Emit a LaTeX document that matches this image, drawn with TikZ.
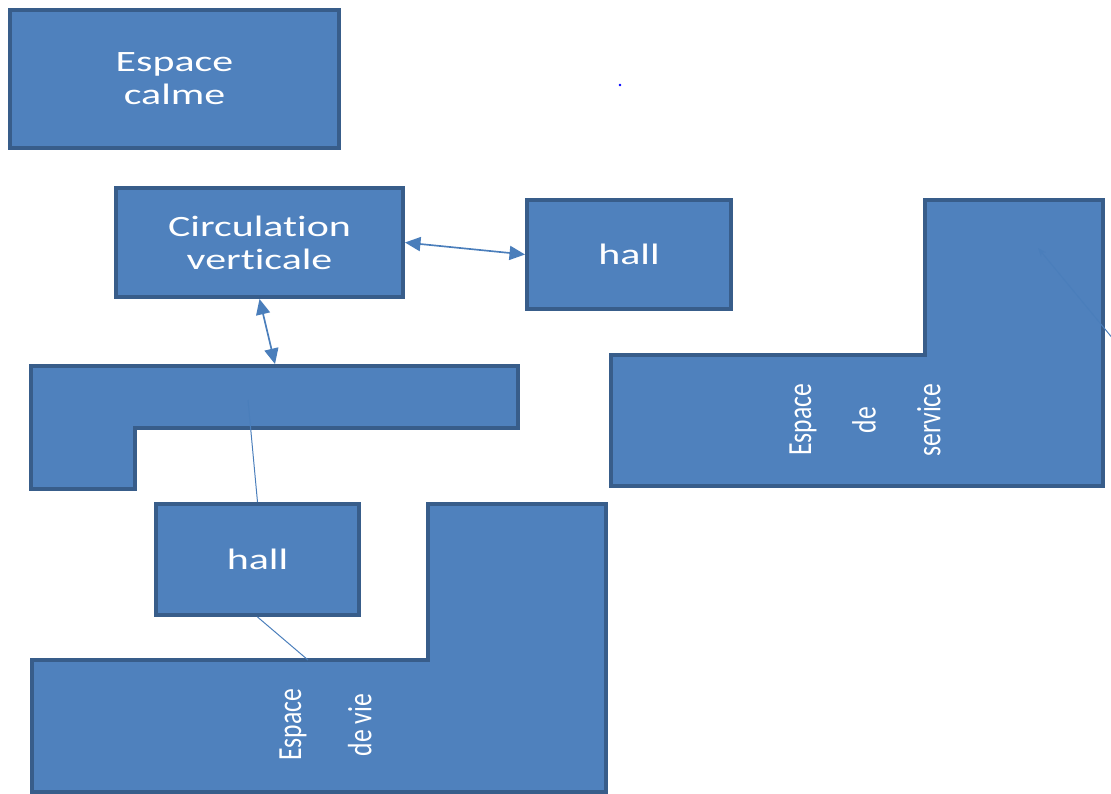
\documentclass[tikz,border=0pt]{standalone}
\usepackage{fontspec}
\usepackage{xcolor}
\usepackage{tikz}
\usetikzlibrary{arrows.meta}
\newfontfamily\widefont[FakeStretch=1.42,Ligatures=NoCommon]{Carlito}
\newfontfamily\narrowfont[FakeStretch=0.76,Ligatures=NoCommon]{Carlito}
\definecolor{boxfill}{HTML}{4F81BD}
\definecolor{boxline}{HTML}{385D8A}
\definecolor{linkblue}{HTML}{4A7EBB}

\begin{document}
\begin{tikzpicture}[x=0.025cm,y=-0.025cm]
\tikzstyle{every node}+=[inner sep=0pt]
\tikzstyle{room}=[draw=boxline,fill=boxfill,line width=2.8pt,text=white,align=center,font=\widefont\fontsize{21}{23.5}\selectfont]
\tikzstyle{zone}=[draw=boxline,fill=boxfill,line width=2.8pt,line join=miter]
\tikzstyle{vlabel}=[rotate=90,text=white,align=center]
\tikzstyle{duplex}=[linkblue,line width=1.2pt,{Triangle[length=11pt,width=10pt]}-{Triangle[length=11pt,width=10pt]}]
\tikzstyle{wire}=[linkblue,line width=0.7pt]
\useasboundingbox (0,0) rectangle (1111,794);
\draw [zone] (31,366) -- (518,366) -- (518,428) -- (135,428) -- (135,489) -- (31,489) -- cycle;
\draw [zone] (611,355) -- (925,355) -- (925,200) -- (1103,200) -- (1103,486) -- (611,486) -- cycle;
\draw [zone] (32,660) -- (428,660) -- (428,504) -- (606,504) -- (606,792) -- (32,792) -- cycle;
\node [room,minimum width=8.225cm,minimum height=3.45cm] (calme) at (174.5,79) {Espace\\calme};
\node [room,minimum width=7.175cm,minimum height=2.725cm] (circ) at (259.5,242.5) {Circulation\\verticale};
\node [room,minimum width=5.1cm,minimum height=2.725cm] (hallA) at (629,254.5) {hall};
\node [room,minimum width=5.075cm,minimum height=2.775cm] (hallB) at (257.5,559.5) {hall};
\node [vlabel,font=\narrowfont\fontsize{24}{46}\selectfont] (service) at (865,420) {Espace\\de\\service};
\node [vlabel,font=\narrowfont\fontsize{24}{50}\selectfont] (vie) at (325.5,725) {Espace\\de vie};
\coordinate (jour) at (275,364);
\coordinate (jourmid) at (248,400);
\coordinate (vietop) at (308,660);
\coordinate (svcin) at (1038,248);
\coordinate (svcout) at (1114,340);
\draw [duplex] (circ.east) -- (hallA.west);
\draw [duplex] (circ.south) -- (jour);
\draw [wire] (jourmid) -- (hallB.north);
\draw [wire] (hallB.south) -- (vietop);
\draw [wire,-{Stealth[length=6pt]}] (svcout) -- (svcin);
\fill [blue] (620,85) circle (1pt);
\end{tikzpicture}
\end{document}
